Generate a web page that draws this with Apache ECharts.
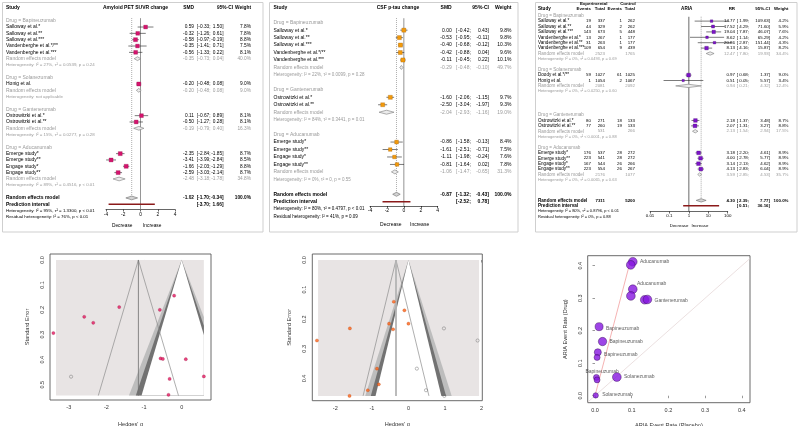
<!DOCTYPE html>
<html><head><meta charset="utf-8">
<script src="https://cdn.jsdelivr.net/npm/echarts@6/dist/echarts.min.js"></script>
<style>html,body{margin:0;padding:0;background:#fff}#c{width:800px;height:426px}</style>
</head><body><div id="c"></div>
<script>
// ================= DATA =================
// --- Panel A: Amyloid PET SUVR change (SMD) ---
const amyGroups = ['Bapineuzumab','Solanezumab','Gantenerumab','Aducanumab'];
const amyStudies = ['Salloway et al.*','Salloway et al.**','Salloway et al.***','Vandenberghe et al.*/**','Vandenberghe et al.***','Honig et al.','Ostrowitzki et al.*','Ostrowitzki et al.**','Emerge study*','Emerge study**','Engage study*','Engage study**'];
const amyStudyGroup = [0,0,0,0,0,1,2,2,3,3,3,3];
const amySMD = [0.59,-0.32,-0.58,-0.35,-0.56,-0.20,0.11,-0.50,-2.35,-3.41,-1.66,-2.59];
const amyLo  = [-0.33,-1.26,-0.97,-1.41,-1.33,-0.48,-0.67,-1.27,-2.84,-3.99,-2.03,-3.03];
const amyHi  = [1.50,0.61,-0.19,0.71,0.22,0.08,0.89,0.28,-1.85,-2.84,-1.29,-2.14];
const amyW   = [7.8,7.8,8.8,7.5,8.1,9.0,8.1,8.1,8.7,8.5,8.8,8.7];
const amySubEst = [-0.35,-0.20,-0.19,-2.48];
const amySubLo  = [-0.73,-0.48,-0.79,-3.18];
const amySubHi  = [0.04,0.08,0.40,-1.78];
const amySubW   = [40.0,9.0,16.3,34.8];
const amySubHet = ['Heterogeneity: I² = 27%, τ² = 0.0539, p = 0.24','Heterogeneity: not applicable','Heterogeneity: I² = 15%, τ² = 0.0277, p = 0.28','Heterogeneity: I² = 89%, τ² = 0.4516, p < 0.01'];
const amyOverall = [-1.02,-1.70,-0.34,100.0];
const amyPI = [-3.70,1.66];
const amyHet = 'Heterogeneity: I² = 95%, τ² = 1.3300, p < 0.01';
const amyResid = 'Residual heterogeneity: I² = 76%, p < 0.01';

// --- Panel B: CSF p-tau change (SMD) ---
const tauGroups = ['Bapineuzumab','Gantenerumab','Aducanumab'];
const tauStudies = ['Salloway et al.*','Salloway et al.**','Salloway et al.***','Vandenberghe et al.*/**','Vandenberghe et al.***','Ostrowitzki et al.*','Ostrowitzki et al.**','Emerge study*','Emerge study**','Engage study*','Engage study**'];
const tauStudyGroup = [0,0,0,0,0,1,1,2,2,2,2];
const tauSMD = [0.00,-0.53,-0.40,-0.42,-0.11,-1.60,-2.50,-0.86,-1.61,-1.11,-0.81];
const tauLo  = [-0.42,-0.95,-0.68,-0.88,-0.45,-2.06,-3.04,-1.58,-2.51,-1.98,-1.64];
const tauHi  = [0.43,-0.11,-0.12,0.04,0.22,-1.15,-1.97,-0.13,-0.71,-0.24,0.02];
const tauW   = [9.8,9.8,10.3,9.6,10.1,9.7,9.3,8.4,7.5,7.6,7.8];
const tauSubEst = [-0.29,-2.04,-1.06];
const tauSubLo  = [-0.48,-2.93,-1.47];
const tauSubHi  = [-0.10,-1.16,-0.65];
const tauSubW   = [49.7,19.0,31.3];
const tauSubHet = ['Heterogeneity: I² = 22%, τ² = 0.0099, p = 0.28','Heterogeneity: I² = 84%, τ² = 0.3441, p = 0.01','Heterogeneity: I² = 0%, τ² = 0, p = 0.55'];
const tauOverall = [-0.87,-1.32,-0.43,100.0];
const tauPI = [-2.52,0.78];
const tauHet = 'Heterogeneity: I² = 80%, τ² = 0.4797, p < 0.01';
const tauResid = 'Residual heterogeneity: I² = 41%, p = 0.09';

const smdTicks = [-4,-2,0,2,4];
const smdTickLabels = ['-4','-2','0','2','4'];

// --- Panel C: ARIA (risk ratio) ---
const ariaGroups = ['Bapineuzumab','Solanezumab','Gantenerumab','Aducanumab'];
const ariaStudies = ['Salloway et al.*','Salloway et al.**','Salloway et al.***','Vandenberghe et al.*','Vandenberghe et al.**','Vandenberghe et al.***','Doody et al.*/**','Honig et al.','Ostrowitzki et al.*','Ostrowitzki et al.**','Emerge study*','Emerge study**','Engage study*','Engage study**'];
const ariaStudyGroup = [0,0,0,0,0,0,1,1,2,2,3,3,3,3];
const ariaExpEvents  = [19,44,143,13,31,109,59,1,80,77,176,223,167,223];
const ariaExpTotal   = [337,329,673,267,263,654,1027,1054,271,260,537,541,544,554];
const ariaCtrlEvents = [1,2,5,1,1,9,61,2,18,19,28,28,26,26];
const ariaCtrlTotal  = [262,262,448,177,177,439,1025,1067,133,133,272,272,266,267];
const ariaRR = [14.77,17.52,19.04,8.62,20.86,8.13,0.97,0.51,2.18,2.07,3.18,4.00,3.14,4.13];
const ariaLo = [1.99,4.29,7.87,1.14,2.87,4.16,0.68,0.05,1.37,1.31,2.20,2.78,2.13,2.83];
const ariaHi = [109.63,71.60,46.07,65.29,151.44,15.87,1.37,5.57,3.48,3.27,4.61,5.77,4.62,6.04];
const ariaW  = [4.2,5.9,7.6,4.2,4.3,8.2,9.0,3.4,8.7,8.8,8.9,8.9,8.9,8.9];
const ariaSubExpTotal  = [2523,2081,531,2176];
const ariaSubCtrlTotal = [1765,2092,266,1077];
const ariaSubEst = [12.47,0.94,2.13,3.59];
const ariaSubLo  = [7.80,0.21,1.54,2.85];
const ariaSubHi  = [19.93,4.32,2.94,4.53];
const ariaSubW   = [34.4,12.4,17.5,35.7];
const ariaSubHet = ['Heterogeneity: I² = 0%, τ² = 0.0493, p = 0.69','Heterogeneity: I² = 0%, τ² = 0.0250, p = 0.60','Heterogeneity: I² = 0%, τ² < 0.0001, p = 0.88','Heterogeneity: I² = 0%, τ² = 0.0065, p = 0.63'];
const ariaOverall = [4.30,2.39,7.77,100.0];
const ariaOverallTotals = [7311,5200];
const ariaPI = [0.51,36.16];
const ariaHet = 'Heterogeneity: I² = 80%, τ² = 0.8796, p < 0.01';
const ariaResid = 'Residual heterogeneity: I² = 0%, p = 0.88';
const ariaTicks = [0.01,0.1,1,10,100];
const ariaTickLabels = ['0.01','0.1','1','10','100'];

// --- Funnel plot 1 (amyloid) ---
const fun1G  = [-3.41,-2.59,-2.35,-1.66,-0.58,-0.20,-0.56,-0.50,0.11,0.59,-0.32,-0.35];
const fun1SE = [0.293,0.228,0.252,0.189,0.200,0.143,0.395,0.397,0.398,0.467,0.477,0.541];
const fun1ImpG  = [-2.94];
const fun1ImpSE = [0.468];
const fun1Center = -1.15;     // trim-and-fill estimate
const fun1SEmax = 0.544;
const fun1Range = [-3.34,0.59];
// --- Funnel plot 2 (p-tau) ---
const fun2G  = [-2.50,-1.60,-0.40,-0.11,-0.53,-0.42,0.00,-0.86,-0.81,-1.11,-1.61];
const fun2SE = [0.272,0.231,0.141,0.170,0.215,0.234,0.215,0.367,0.420,0.440,0.459];
const fun2ImpG  = [0.97,1.89,0.23,0.48,0.98];
const fun2ImpSE = [0.231,0.272,0.367,0.440,0.459];
const fun2Center = -0.34;
const fun2SEmax = 0.459;
const fun2Range = [-2.47,1.93];
const contourZ = [2.576,2.24,1.96];
const fun1XTicks = [-3,-2,-1,0];
const fun2XTicks = [-2,-1,0,1,2];
const fun1YTicks = [0,0.1,0.2,0.3,0.4,0.5];
const fun2YTicks = [0,0.1,0.2,0.3,0.4];
const legendLabels = ['p < 0.05','p<0.025','< 0.01'];

// --- Bubble plot (ARIA rates) ---
const bubbleLabel = ['','Bapineuzumab','Bapineuzumab','Bapineuzumab','','Bapineuzumab','Solanezumab','Solanezumab','','Gantenerumab','Aducanumab','Aducanumab','',''];
const bubbleTicks = [0,0.1,0.2,0.3,0.4];
const regXmax = 0.095;

// ================= HELPERS =================
const FONT = '"Liberation Sans", Arial, Helvetica, sans-serif';
const GRAY = '#9a9a9a';
const grids=[], xAxes=[], yAxes=[], series=[], graphics=[];
function addGrid(g, xa, ya){
  grids.push(Object.assign({outerBoundsMode:'none', containLabel:false}, g));
  const gi = grids.length-1;
  xAxes.push(Object.assign({gridIndex:gi, splitLine:{show:false}}, xa));
  yAxes.push(Object.assign({gridIndex:gi, splitLine:{show:false}}, ya));
  return gi;
}
const hiddenAx = (min,max,inv)=>({type:'value', min, max, inverse:!!inv, show:false});
function textSeries(gi, items){
  series.push({type:'custom', xAxisIndex:gi, yAxisIndex:gi, silent:true, z:6, clip:false,
    data: items.map(t=>[t.x, t.y]),
    renderItem:(params, api)=>{
      const t = items[params.dataIndex];
      const p = api.coord([api.value(0), api.value(1)]);
      return {type:'text', x:p[0], y:p[1], rotation:t.rot||0,
        style:{text:t.text, fill:t.color||'#000', fontSize:t.size, fontFamily:FONT,
          fontWeight:t.bold?'bold':'normal', align:t.align||'left', verticalAlign:'middle'}};
    }});
}
function shapeSeries(gi, shapes, z){
  series.push({type:'custom', xAxisIndex:gi, yAxisIndex:gi, silent:true, z:z||2, clip:false,
    data: shapes.map((s,i)=>[i]),
    renderItem:(params, api)=>{
      const s = shapes[params.dataIndex];
      const pts = s.pts.map(p=>api.coord(p));
      return {type:s.kind||'polygon', shape:{points:pts},
        style:{fill:s.kind==='polyline'?null:(s.fill||null), stroke:s.stroke||null, lineWidth:s.lw||0.6, lineDash:s.dash||null}};
    }});
}
function tickFmt(ticks, labels){
  return v=>{ let bi=0, bd=Infinity; ticks.forEach((t,i)=>{const d=Math.abs(Math.log(Math.abs(t)+1e-12)-Math.log(Math.abs(v)+1e-12))+Math.abs(t-v); if(d<bd){bd=d;bi=i;}}); return labels[bi]; };
}
function clipPoly(pts, b){
  const planes=[[0,b[0],1],[0,b[1],-1],[1,b[2],1],[1,b[3],-1]];
  let out=pts;
  for(const [ax,v,s] of planes){
    const inp=out; out=[];
    for(let i=0;i<inp.length;i++){
      const A=inp[i], B=inp[(i+1)%inp.length];
      const ia=(A[ax]-v)*s>=0, ib=(B[ax]-v)*s>=0;
      if(ia) out.push(A);
      if(ia!==ib){ const t=(v-A[ax])/(B[ax]-A[ax]); out.push([A[0]+t*(B[0]-A[0]), A[1]+t*(B[1]-A[1])]); }
    }
    if(!out.length) break;
  }
  return out;
}
const f2 = v=>v.toFixed(2);
const fw = v=>v.toFixed(1)+'%';

// ================= FOREST BUILDER =================
function buildForest(P){
  const rowY = r => P.rowTop + (r-1)*P.rowH;
  const rowOf = y => 1 + (y - P.rowTop)/P.rowH;
  const tMin=-4, tMax=50;
  const tg = addGrid({left:P.box[0], top:rowY(tMin), width:P.box[2]-P.box[0], height:(tMax-tMin)*P.rowH},
     hiddenAx(P.box[0],P.box[2]), hiddenAx(tMin,tMax,true));
  const pTop=rowY(0), pH=P.axisY-pTop, pMax=pH/P.rowH;
  const pg = addGrid({left:P.x0, top:pTop, width:P.x1-P.x0, height:pH},
    {type:P.log?'log':'value', logBase:10, min:P.min, max:P.max,
     axisLine:{show:true, onZero:false, lineStyle:{color:'#000', width:0.6}},
     axisTick:{show:true, length:2, customValues:P.ticks, lineStyle:{color:'#000', width:0.6}},
     axisLabel:{show:true, customValues:P.ticks, fontSize:P.fsNum, color:'#000', margin:2.5, fontFamily:FONT, formatter:tickFmt(P.ticks,P.tickLabels)}},
    hiddenAx(0,pMax,true));
  // rows (uniform line spacing; optional extra blank space)
  let r=1; const sRow=[], gHead=[], gRem=[], gHet=[];
  P.groups.forEach((g,gi)=>{
    r += (P.gapBefore ? P.gapBefore[gi] : 0);
    gHead[gi]=r++;
    P.group.forEach((gg,si)=>{ if(gg===gi) sRow[si]=r++; });
    gRem[gi]=r++; gHet[gi]=r++; r++;
  });
  r += (P.gapOverall||0);
  const oRow=r, piRow=r+1, hetRow=r+2, resRow=r+3;
  const c=P.cols, T=[];
  const add=(x,y,text,o)=>T.push(Object.assign({x,y,text,size:P.fs},o||{}));
  const addCI=(row,lo,hi,o)=>{ add(c.ciL,row,'[',o); add(c.ciLo,row,f2(lo)+';',Object.assign({align:'right'},o)); add(c.ciHi,row,f2(hi)+']',Object.assign({align:'right'},o)); };
  // header
  const hR=rowOf(P.headY);
  add(P.studyX,hR,'Study',{bold:true,size:P.fs});
  add(P.titleX,hR,P.title,{bold:true,align:'center'});
  add(c.est,hR,P.estHead,{bold:true,align:'right',size:P.fsNum});
  add(c.ciHead,hR,'95%-CI',{bold:true,align:'right',size:P.fsNum});
  add(c.w,hR,'Weight',{bold:true,align:'right',size:P.fsNum});
  if(P.counts){
    const h1=rowOf(P.headY1);
    add(P.counts.expC,h1,'Experimental',{bold:true,align:'center',size:P.fsNum});
    add(P.counts.ctlC,h1,'Control',{bold:true,align:'center',size:P.fsNum});
    const cc=P.counts.x;
    ['Events','Total','Events','Total'].forEach((t,i)=>add(cc[i],hR,t,{bold:true,align:'right',size:P.fsNum}));
  }
  const num={size:P.fsNum};
  const gnum={size:P.fsNum,color:GRAY};
  P.groups.forEach((g,gi)=>{
    add(P.studyX,gHead[gi],'Drug = '+g,{color:GRAY});
    add(P.studyX,gRem[gi],'Random effects model',{color:GRAY});
    add(c.est,gRem[gi],f2(P.subEst[gi]),Object.assign({align:'right'},gnum));
    addCI(gRem[gi],P.subLo[gi],P.subHi[gi],gnum);
    add(c.w,gRem[gi],fw(P.subW[gi]),Object.assign({align:'right'},gnum));
    add(P.studyX,gHet[gi],P.subHet[gi],{color:GRAY,size:P.fsHet});
    if(P.counts){
      add(P.counts.x[1],gRem[gi],String(P.counts.subExp[gi]),Object.assign({align:'right'},gnum));
      add(P.counts.x[3],gRem[gi],String(P.counts.subCtl[gi]),Object.assign({align:'right'},gnum));
    }
  });
  P.studies.forEach((s,i)=>{
    add(P.studyX,sRow[i],s);
    add(c.est,sRow[i],f2(P.est[i]),Object.assign({align:'right'},num));
    addCI(sRow[i],P.lo[i],P.hi[i],num);
    add(c.w,sRow[i],fw(P.w[i]),Object.assign({align:'right'},num));
    if(P.counts){
      const arrs=[P.counts.ee,P.counts.et,P.counts.ce,P.counts.ct];
      arrs.forEach((a,k)=>add(P.counts.x[k],sRow[i],String(a[i]),Object.assign({align:'right'},num)));
    }
  });
  const bnum={size:P.fsNum,bold:true};
  add(P.studyX,oRow,'Random effects model',{bold:true});
  add(c.est,oRow,f2(P.overall[0]),Object.assign({align:'right'},bnum));
  addCI(oRow,P.overall[1],P.overall[2],bnum);
  add(c.w,oRow,fw(P.overall[3]),Object.assign({align:'right'},bnum));
  if(P.counts){
    add(P.counts.x[1],oRow,String(P.counts.tot[0]),Object.assign({align:'right'},bnum));
    add(P.counts.x[3],oRow,String(P.counts.tot[1]),Object.assign({align:'right'},bnum));
  }
  add(P.studyX,piRow,'Prediction interval',{bold:true});
  addCI(piRow,P.pi[0],P.pi[1],bnum);
  add(P.studyX,hetRow,P.het,{size:P.fsHet});
  add(P.studyX,resRow,P.resid,{size:P.fsHet});
  const dR=rowOf(P.decY);
  add(P.decX[0],dR,'Decrease',{align:'right',size:P.fsNum});
  add(P.decX[1],dR,'Increase',{align:'left',size:P.fsNum});
  textSeries(tg,T);

  // reference lines
  series.push({type:'line', xAxisIndex:pg, yAxisIndex:pg, data:[[P.ref,P.lineStart],[P.ref,pMax]], symbol:'none', silent:true, z:1,
    lineStyle:{color:P.refColor, width:P.refWidth}});
  series.push({type:'line', xAxisIndex:pg, yAxisIndex:pg, data:[[P.overall[0],P.lineStart],[P.overall[0],oRow]], symbol:'none', silent:true, z:1,
    lineStyle:{color:'#555', width:0.6, type:[0.8,1.2]}});
  // studies
  series.push({type:'custom', xAxisIndex:pg, yAxisIndex:pg, silent:true, z:3, clip:false,
    data:P.studies.map((s,i)=>[P.est[i], sRow[i], P.lo[i], P.hi[i], P.w[i]]),
    renderItem:(params,api)=>{
      const p=api.coord([api.value(0),api.value(1)]), a=api.coord([api.value(2),api.value(1)]), b=api.coord([api.value(3),api.value(1)]);
      const s=P.sqK*Math.sqrt(api.value(4));
      return {type:'group', children:[
        {type:'line', shape:{x1:a[0],y1:a[1],x2:b[0],y2:b[1]}, style:{stroke:'#222', lineWidth:0.6}},
        {type:'rect', shape:{x:p[0]-s/2,y:p[1]-s/2,width:s,height:s}, style:{fill:P.color, stroke:P.colorDark, lineWidth:0.3}}
      ]};
    }});
  // diamonds
  const dia=[];
  P.groups.forEach((g,gi)=>dia.push([P.subEst[gi],gRem[gi],P.subLo[gi],P.subHi[gi],0]));
  dia.push([P.overall[0],oRow,P.overall[1],P.overall[2],1]);
  series.push({type:'custom', xAxisIndex:pg, yAxisIndex:pg, silent:true, z:3, clip:false, data:dia,
    renderItem:(params,api)=>{
      const e=api.value(0), rr=api.value(1), lo=api.value(2), hi=api.value(3), ov=api.value(4);
      const h=P.dh;
      const pts=[[lo,rr],[e,rr-h],[hi,rr],[e,rr+h]].map(q=>api.coord(q));
      return {type:'polygon', shape:{points:pts}, style:{fill:ov?'#d4d4d4':'#ececec', stroke:ov?'#6a6a6a':'#7a7a7a', lineWidth:0.6}};
    }});
  // prediction interval
  series.push({type:'line', xAxisIndex:pg, yAxisIndex:pg, data:[[P.pi[0],piRow],[P.pi[1],piRow]], symbol:'none', silent:true, z:3,
    lineStyle:{color:'#8b1a1a', width:1.6}});
  graphics.push({type:'rect', shape:{x:P.box[0],y:P.box[1],width:P.box[2]-P.box[0],height:P.box[3]-P.box[1]}, style:{fill:'none', stroke:'#cfcfcf', lineWidth:1}, silent:true});
}

buildForest({
  box:[2.5,2.5,263,232], rowTop:20.7, rowH:6.33, axisY:209.5, headY:7.5, decY:226,
  x0:106, x1:175, min:-4, max:4, ticks:smdTicks, tickLabels:smdTickLabels, ref:0, refColor:'#8a8a8a', refWidth:0.9, lineStart:0.6,
  studyX:6, title:'Amyloid PET SUVR change', titleX:135.5, estHead:'SMD',
  cols:{est:194, ciL:196.8, ciLo:210.6, ciHi:223.5, w:251, ciHead:233},
  decX:[132.5,143],
  fs:5, fsNum:4.8, fsHet:4.4, sqK:1.35, dh:0.3, color:'#d6136e', colorDark:'#8a0a45',
  groups:amyGroups, group:amyStudyGroup, studies:amyStudies, est:amySMD, lo:amyLo, hi:amyHi, w:amyW,
  subEst:amySubEst, subLo:amySubLo, subHi:amySubHi, subW:amySubW, subHet:amySubHet,
  overall:amyOverall, pi:amyPI, het:amyHet, resid:amyResid
});
buildForest({
  box:[269.5,2.5,518,232], rowTop:22.7, rowH:7.46, axisY:206, headY:7.5, decY:225,
  x0:370, x1:437.7, min:-4, max:4, ticks:smdTicks, tickLabels:smdTickLabels, ref:0, refColor:'#777', refWidth:0.8, lineStart:0.4,
  studyX:273.5, title:'CSF p-tau change', titleX:398, estHead:'SMD',
  cols:{est:451.7, ciL:456, ciLo:470.8, ciHi:489, w:511.5, ciHead:489},
  decX:[401.5,410],
  fs:5, fsNum:5, fsHet:4.5, sqK:1.3, dh:0.27, color:'#f39a0b', colorDark:'#9a5a00',
  groups:tauGroups, group:tauStudyGroup, studies:tauStudies, est:tauSMD, lo:tauLo, hi:tauHi, w:tauW,
  subEst:tauSubEst, subLo:tauSubLo, subHi:tauSubHi, subW:tauSubW, subHet:tauSubHet,
  overall:tauOverall, pi:tauPI, het:tauHet, resid:tauResid
});
buildForest({
  box:[535.5,2.5,797,232], rowTop:15.7, rowH:5.4, axisY:211.5, headY:9.2, headY1:4.2, decY:225.7,
  gapBefore:[0,0,2.4,0], gapOverall:1.8,
  x0:650, x1:727.7, log:true, min:0.01, max:100, ticks:ariaTicks, tickLabels:ariaTickLabels, ref:1, refColor:'#444', refWidth:0.8, lineStart:1.2,
  studyX:538, title:'ARIA', titleX:686.7, estHead:'RR',
  cols:{est:735, ciL:736.8, ciLo:749, ciHi:770, w:788.5, ciHead:770},
  counts:{x:[591,605,622,635], expC:593.7, ctlC:628, ee:ariaExpEvents, et:ariaExpTotal, ce:ariaCtrlEvents, ct:ariaCtrlTotal,
    subExp:ariaSubExpTotal, subCtl:ariaSubCtrlTotal, tot:ariaOverallTotals},
  decX:[688.5,691.5],
  fs:4.6, fsNum:4.4, fsHet:4.0, sqK:1.25, dh:0.31, color:'#7d14c9', colorDark:'#3d0068',
  groups:ariaGroups, group:ariaStudyGroup, studies:ariaStudies, est:ariaRR, lo:ariaLo, hi:ariaHi, w:ariaW,
  subEst:ariaSubEst, subLo:ariaSubLo, subHi:ariaSubHi, subW:ariaSubW, subHet:ariaSubHet,
  overall:ariaOverall, pi:ariaPI, het:ariaHet, resid:ariaResid
});

// ================= FUNNEL BUILDER =================
function axisCommon(ticks, fmt, rot){
  return {
    axisLine:{show:false},
    axisTick:{show:true, length:2.5, customValues:ticks, lineStyle:{color:'#555', width:0.6}},
    axisLabel:{show:true, customValues:ticks, fontSize:5.5, color:'#333', fontFamily:FONT, margin:4.5, rotate:rot||0, formatter:fmt},
    nameTextStyle:{fontSize:5.6, color:'#333', fontFamily:FONT}, nameLocation:'middle'
  };
}
function buildFunnel(F){
  const gi = addGrid({left:F.left, top:F.top, width:F.width, height:F.height, show:true, borderColor:'#5a5a5a', borderWidth:0.9},
    Object.assign({type:'value', min:F.xmin, max:F.xmax, name:"Hedges' g", nameGap:F.xGap}, axisCommon(F.xticks, v=>String(Math.round(v)))),
    Object.assign({type:'value', min:F.ymin, max:F.ymax, inverse:true, name:'Standard Error', nameGap:F.yGap, nameRotate:90}, axisCommon(F.yticks, v=>v.toFixed(1), 90)));
  const box=[F.range[0],F.range[1],0,F.seMax];
  const shapes=[{pts:[[F.range[0],0],[F.range[1],0],[F.range[1],F.seMax],[F.range[0],F.seMax]], fill:'#e8e4e4'}];
  const fills=['#bdbdbd','#727272','#ffffff'];
  contourZ.forEach((z,i)=>shapes.push({pts:clipPoly([[0,0],[z*F.seMax,F.seMax],[-z*F.seMax,F.seMax]],box), fill:fills[i]}));
  const hw=1.96*F.seMax;
  shapes.push({kind:'polyline', pts:[[F.center-hw,F.seMax],[F.center,0],[F.center+hw,F.seMax]], stroke:'#8c8c8c', lw:0.7});
  shapes.push({kind:'polyline', pts:[[F.center,0],[F.center,F.seMax]], stroke:F.vColor, lw:F.vWidth});
  shapeSeries(gi, shapes, 1);
  series.push({type:'scatter', xAxisIndex:gi, yAxisIndex:gi, silent:true, z:4, symbolSize:3.2,
    data:F.g.map((g,i)=>[g,F.se[i]]), itemStyle:{color:F.color, borderColor:F.colorDark, borderWidth:0.3}});
  series.push({type:'scatter', xAxisIndex:gi, yAxisIndex:gi, silent:true, z:4, symbolSize:3.2,
    data:F.ig.map((g,i)=>[g,F.ise[i]]), itemStyle:{color:'rgba(255,255,255,0)', borderColor:'#6f6f6f', borderWidth:0.6}});
  // legend
  const lf=['#6e6e6e','#bebebe','#ffffff'];
  legendLabels.forEach((t,i)=>{
    graphics.push({type:'rect', shape:{x:F.leg[0], y:F.leg[1]+i*F.leg[3], width:F.leg[2], height:4}, style:{fill:lf[i], stroke:'#222', lineWidth:0.5}, silent:true});
    graphics.push({type:'text', x:F.leg[4], y:F.leg[1]+2+i*F.leg[3], style:{text:t, fontSize:5.2, fontFamily:FONT, fill:'#222', verticalAlign:'middle'}, silent:true});
  });
}
buildFunnel({left:50, top:254, width:161, height:146, xmin:-3.5, xmax:0.78, ymin:-0.024, ymax:0.5616, xGap:21, yGap:20,
  xticks:fun1XTicks, yticks:fun1YTicks, range:fun1Range, seMax:fun1SEmax, center:fun1Center, vColor:'#6e6e6e', vWidth:0.8,
  g:fun1G, se:fun1SE, ig:fun1ImpG, ise:fun1ImpSE, color:'#e3175f', colorDark:'#8a0a35', leg:[61,262,8,5.6,77]});
buildFunnel({left:312.3, top:254, width:170, height:146.7, xmin:-2.627, xmax:2.018, ymin:-0.0203, ymax:0.4753, xGap:20.5, yGap:20,
  xticks:fun2XTicks, yticks:fun2YTicks, range:fun2Range, seMax:fun2SEmax, center:fun2Center, vColor:'#b4b4b4', vWidth:1.8,
  g:fun2G, se:fun2SE, ig:fun2ImpG, ise:fun2ImpSE, color:'#ff6215', colorDark:'#a03400', leg:[324,263,9,5.8,342]});

// ================= BUBBLE PLOT =================
(function(){
  const gi = addGrid({left:587.7, top:255.7, width:162.3, height:147, show:true, borderColor:'#5a5a5a', borderWidth:0.9},
    Object.assign({type:'value', min:-0.0199, max:0.4223, name:'ARIA Event Rate (Placebo)', nameGap:19.5}, axisCommon(bubbleTicks, v=>v.toFixed(1))),
    Object.assign({type:'value', min:-0.0215, max:0.4308, name:'ARIA Event Rate (Drug)', nameGap:19.5, nameRotate:90}, axisCommon(bubbleTicks, v=>v.toFixed(1), 90)));
  series.push({type:'line', xAxisIndex:gi, yAxisIndex:gi, data:[[-0.0199,-0.0199],[0.4223,0.4223]], symbol:'none', silent:true, z:1,
    lineStyle:{color:'#e6d8d8', width:0.8}});
  const slope=ariaOverall[0];
  series.push({type:'line', xAxisIndex:gi, yAxisIndex:gi, data:[[0,0],[regXmax,regXmax*slope]], symbol:'none', silent:true, z:1,
    lineStyle:{color:'#f2a0a0', width:0.8}});
  const pos=['','right','right','top','','right','right','right','','right','right','right','',''];
  const off=[[0,0],[0,2],[0,2],[5,0],[0,0],[0,0],[0,0],[1,-1],[0,0],[0,1],[-3,-6],[0,0],[0,0],[0,0]];
  series.push({type:'scatter', xAxisIndex:gi, yAxisIndex:gi, silent:true, z:4,
    symbolSize:v=>2.92*Math.sqrt(v[2]),
    data:ariaStudies.map((s,i)=>({
      value:[ariaCtrlEvents[i]/ariaCtrlTotal[i], ariaExpEvents[i]/ariaExpTotal[i], ariaW[i]],
      label:{show:!!bubbleLabel[i], formatter:bubbleLabel[i], position:pos[i]||'right', offset:off[i], distance:2.5,
        fontSize:5, color:'#333', fontFamily:FONT}
    })),
    itemStyle:{color:'#8616e0', borderColor:'#2a0648', borderWidth:0.5}});
})();

// ================= RENDER =================
const chart = echarts.init(document.getElementById('c'), null, {renderer:'canvas'});
chart.setOption({animation:false, backgroundColor:'#fff', grid:grids, xAxis:xAxes, yAxis:yAxes, series:series, graphic:{elements:graphics}});
</script></body></html>
